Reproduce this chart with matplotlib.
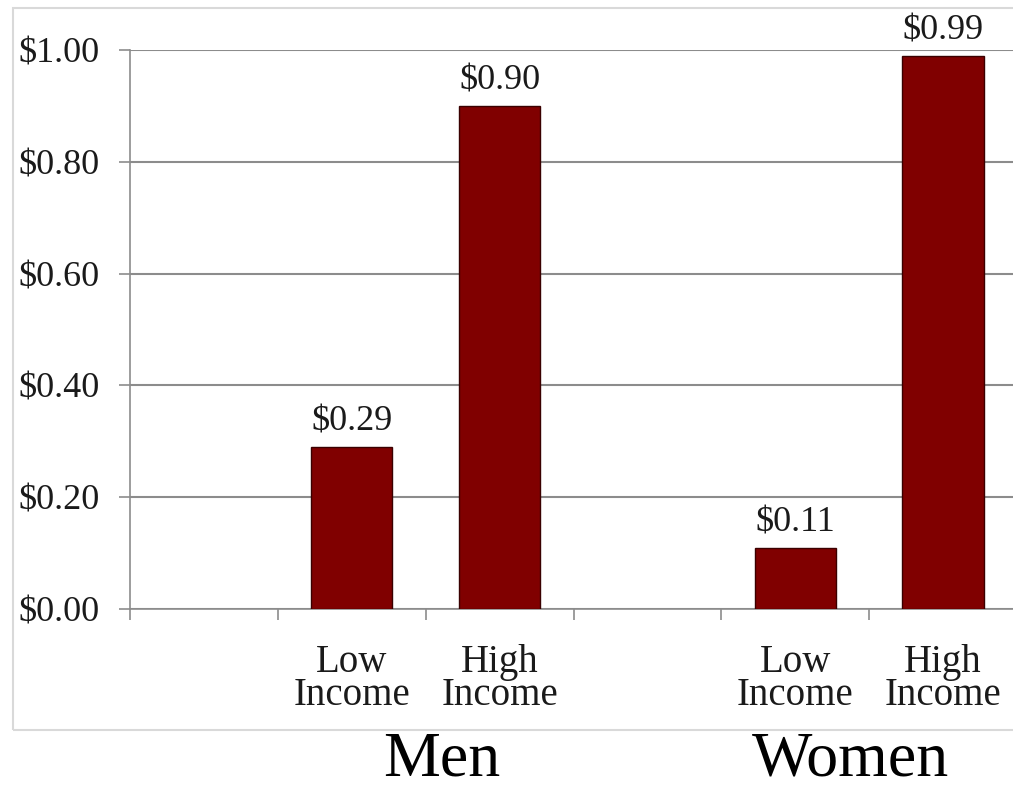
import matplotlib
matplotlib.use("Agg")
import matplotlib.pyplot as plt
from matplotlib.patches import Rectangle
from matplotlib.ticker import FixedLocator, FuncFormatter

# Data
groups = ["Men", "Women"]
income_levels = ["Low\nIncome", "High\nIncome"]
men_values = [0.29, 0.90]
women_values = [0.11, 0.99]
y_ticks = [0.0, 0.2, 0.4, 0.6, 0.8, 1.0]

W, H, DPI = 1013, 790, 100
plt.rcParams['font.family'] = ['Liberation Serif', 'DejaVu Serif']

fig = plt.figure(figsize=(W / DPI, H / DPI), dpi=DPI)
fig.patch.set_facecolor('white')

# outer chart frame
fig.patches.append(Rectangle((13 / W, 1 - 730 / H), 1.2, (730 - 8) / H,
                             transform=fig.transFigure, fill=False,
                             edgecolor='#d9d9d9', linewidth=1.5))

left, right = 130 / W, 1017 / W
top, bottom = 1 - 50 / H, 1 - 609 / H
ax = fig.add_axes([left, bottom, right - left, top - bottom])

bar_color = '#800000'
# slot layout: empty slot, then the two income levels per group
positions, values, labels = [], [], []
for gi, vals in enumerate([men_values, women_values]):
    for li, v in enumerate(vals):
        positions.append(gi * 3 + 1 + li)
        values.append(v)
        labels.append(income_levels[li])

bars = ax.bar(positions, values, width=0.55, color=bar_color,
              edgecolor='#3a0000', linewidth=1.0, zorder=3)
for p, v in zip(positions, values):
    ax.annotate(f"${v:.2f}", (p, v), xytext=(0, 6), textcoords='offset points',
                ha='center', va='bottom', fontsize=26, color='#1a1a1a')

ax.set_xlim(-0.5, 5.5)
ax.set_ylim(0, 1.0)
ax.set_yticks(y_ticks)
ax.yaxis.set_major_formatter(FuncFormatter(lambda v, _: f"${v:.2f}"))
ax.grid(axis='y', color='#8c8c8c', linewidth=1.5, zorder=0)
ax.set_axisbelow(True)

ax.set_xticks(positions)
ax.set_xticklabels(labels, fontsize=28, color='#1a1a1a', linespacing=0.88)
ax.xaxis.set_minor_locator(FixedLocator([x - 0.5 for x in range(7)]))
ax.tick_params(axis='x', which='major', length=0, pad=25)
ax.tick_params(axis='x', which='minor', length=8, color='#8c8c8c', width=1.2)
ax.tick_params(axis='y', length=8, color='#8c8c8c', width=1.2, pad=14,
               labelsize=26, labelcolor='#1a1a1a')

for s in ['top', 'right']:
    ax.spines[s].set_visible(False)
for s in ['left', 'bottom']:
    ax.spines[s].set_color('#8c8c8c')
    ax.spines[s].set_linewidth(1.2)

fig.text(442 / W, 1 - 789 / H, groups[0], fontsize=46, ha='center', va='bottom', color='black')
fig.text(850 / W, 1 - 789 / H, groups[1], fontsize=46, ha='center', va='bottom', color='black')

fig.savefig("out.png", dpi=DPI)
